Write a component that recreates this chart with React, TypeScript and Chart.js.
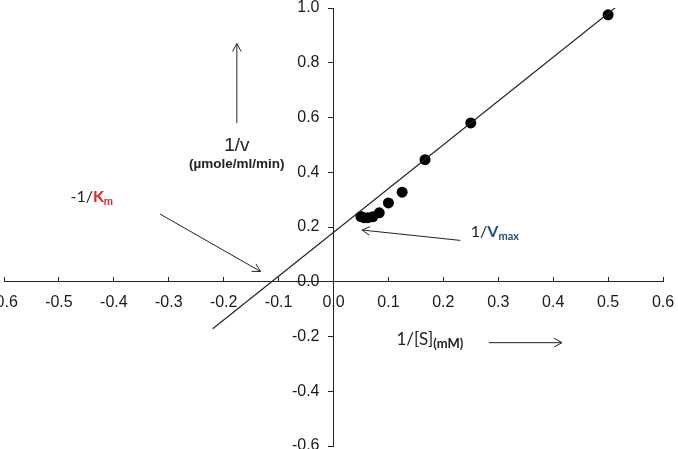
import React, { useEffect, useRef } from "react";
import { Chart, registerables } from "chart.js";

Chart.register(...registerables);

// Measured data: 1/[S] (mM^-1) vs 1/v
const invS = [0.5, 0.25, 0.1667, 0.125, 0.1, 0.0833, 0.0714, 0.0625, 0.0556, 0.05];
const invV = [0.975, 0.58, 0.446, 0.327, 0.288, 0.252, 0.237, 0.234, 0.234, 0.238];

// Fitted Lineweaver-Burk line end points
const fitX = [-0.22, 0.518];
const fitY = [-0.172, 1.009];

const xTickMin = -0.6;
const xTickMax = 0.6;
const xTickStep = 0.1;
const yTickMin = -0.6;
const yTickMax = 1.0;
const yTickStep = 0.2;

const PAD = 40;
const CW = 739;
const CH = 518;

type Seg = { t: string; font: string; color: string; dy?: number };

function drawRich(ctx: CanvasRenderingContext2D, x: number, y: number, segs: Seg[], align: "left" | "center" = "left") {
  ctx.save();
  ctx.textBaseline = "alphabetic";
  ctx.textAlign = "left";
  let total = 0;
  for (const s of segs) {
    ctx.font = s.font;
    total += ctx.measureText(s.t).width;
  }
  let cx = align === "center" ? x - total / 2 : x;
  for (const s of segs) {
    ctx.font = s.font;
    ctx.fillStyle = s.color;
    ctx.fillText(s.t, cx, y + (s.dy || 0));
    cx += ctx.measureText(s.t).width;
  }
  ctx.restore();
}

function drawArrow(ctx: CanvasRenderingContext2D, x1: number, y1: number, x2: number, y2: number) {
  const a = Math.atan2(y2 - y1, x2 - x1);
  const L = 9;
  const w = 0.5;
  ctx.save();
  ctx.strokeStyle = "#222";
  ctx.lineWidth = 1;
  ctx.beginPath();
  ctx.moveTo(x1, y1);
  ctx.lineTo(x2, y2);
  ctx.moveTo(x2 - L * Math.cos(a - w), y2 - L * Math.sin(a - w));
  ctx.lineTo(x2, y2);
  ctx.lineTo(x2 - L * Math.cos(a + w), y2 - L * Math.sin(a + w));
  ctx.stroke();
  ctx.restore();
}

const annotationPlugin = {
  id: "lbAnnotations",
  afterDraw(chart: any) {
    const ctx: CanvasRenderingContext2D = chart.ctx;
    const xs = chart.scales.x;
    const ys = chart.scales.y;
    const px = (v: number) => xs.getPixelForValue(v);
    const py = (v: number) => ys.getPixelForValue(v);
    const calib = "Lato, 'Liberation Sans', sans-serif";
    const arial = "'Liberation Sans', Arial, sans-serif";

    // 1/v label with upward arrow
    drawArrow(ctx, px(-0.176), py(0.58), px(-0.176), py(0.87));
    drawRich(ctx, px(-0.176), py(0.479), [{ t: "1/v", font: `19px ${arial}`, color: "#222" }], "center");
    drawRich(ctx, px(-0.176), py(0.417), [{ t: "(\u00b5mole/ml/min)", font: `bold 13.5px ${arial}`, color: "#222" }], "center");

    // -1/Km
    drawRich(ctx, px(-0.479), py(0.2895), [
      { t: "-1/", font: `16px ${calib}`, color: "#222" },
      { t: "K", font: `bold 16px ${calib}`, color: "#E3242B" },
      { t: "m", font: `bold 11px ${calib}`, color: "#E3242B", dy: 3 },
    ]);
    drawArrow(ctx, px(-0.316), py(0.2475), px(-0.1327), py(0.0374));

    // 1/Vmax
    drawRich(ctx, px(0.25), py(0.1635), [
      { t: "1/", font: `16px ${calib}`, color: "#222" },
      { t: "V", font: `bold 16px ${calib}`, color: "#1F4E79" },
      { t: "max", font: `bold 11px ${calib}`, color: "#1F4E79", dy: 3 },
    ]);
    drawArrow(ctx, px(0.231), py(0.151), px(0.0518), py(0.189));

    // 1/[S] (mM)
    drawRich(ctx, px(0.1145), py(-0.231), [
      { t: "1/[S]", font: `17px ${calib}`, color: "#222" },
      { t: "(mM)", font: `bold 13px ${calib}`, color: "#222", dy: 3 },
    ]);
    drawArrow(ctx, px(0.283), py(-0.2226), px(0.416), py(-0.2226));
  },
};

export default function App() {
  const ref = useRef<HTMLCanvasElement | null>(null);

  useEffect(() => {
    if (!ref.current) return;
    const tickFont = { family: "'Liberation Sans', Arial, sans-serif", size: 16 };
    const chart = new Chart(ref.current, {
      type: "scatter",
      data: {
        datasets: [
          {
            label: "fit",
            data: fitX.map((x, i) => ({ x, y: fitY[i] })),
            showLine: true,
            borderColor: "#222",
            borderWidth: 1.2,
            pointRadius: 0,
            fill: false,
          },
          {
            label: "data",
            data: invS.map((x, i) => ({ x, y: invV[i] })),
            pointRadius: 5.5,
            pointBackgroundColor: "#000",
            pointBorderColor: "#000",
            pointBorderWidth: 0,
          },
        ],
      },
      options: {
        responsive: false,
        animation: false,
        devicePixelRatio: 1,
        layout: { padding: PAD },
        plugins: { legend: { display: false }, tooltip: { enabled: false } },
        scales: {
          x: {
            type: "linear",
            min: xTickMin,
            max: xTickMax,
            position: { y: 0 },
            ticks: {
              stepSize: xTickStep,
              callback: (v: any) => Number(v).toFixed(1),
              font: tickFont,
              color: "#1a1a1a",
              padding: 16.3,
              maxRotation: 0,
              autoSkip: false,
            },
            grid: { drawOnChartArea: false, drawTicks: true, tickLength: -5, color: "#222", lineWidth: 1 },
            border: { display: true, color: "#222", width: 1 },
          },
          y: {
            type: "linear",
            min: yTickMin,
            max: yTickMax,
            position: "center",
            ticks: {
              stepSize: yTickStep,
              callback: (v: any) => Number(v).toFixed(1),
              font: tickFont,
              color: "#1a1a1a",
              padding: 9,
              autoSkip: false,
            },
            grid: { drawOnChartArea: false, drawTicks: true, tickLength: 5, color: "#222", lineWidth: 1 },
            border: { display: true, color: "#222", width: 1 },
          },
        },
      } as any,
      plugins: [annotationPlugin],
    });
    return () => chart.destroy();
  }, []);

  return (
    <div style={{ position: "absolute", left: 0, top: 0, width: 678, height: 449, overflow: "hidden", background: "#fff" }}>
      <canvas
        ref={ref}
        width={CW}
        height={CH}
        style={{ position: "absolute", left: 4 - PAD, top: 8 - PAD, width: CW, height: CH }}
      />
    </div>
  );
}
